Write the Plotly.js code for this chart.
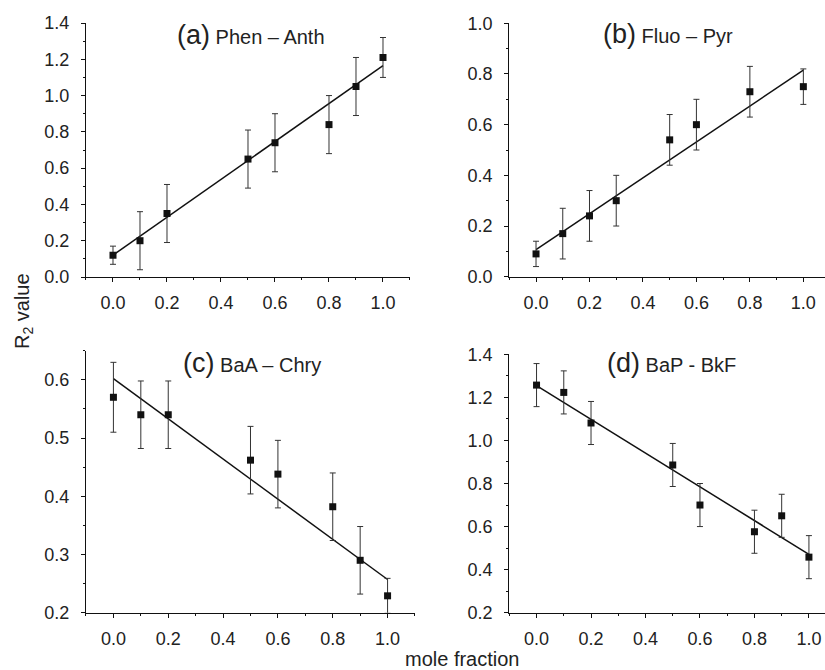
<!DOCTYPE html>
<html>
<head>
<meta charset="utf-8">
<script src="https://cdn.plot.ly/plotly-3.0.1.min.js"></script>
<style>html,body{margin:0;padding:0;background:#fff;}#chart{width:825px;height:670px;}</style>
</head>
<body>
<div id="chart"></div>
<script>
// ---- data ----
const xA = [0.0, 0.1, 0.2, 0.5, 0.6, 0.8, 0.9, 1.0];
const yA = [0.12, 0.20, 0.35, 0.65, 0.74, 0.84, 1.05, 1.21];
const errA = [0.05, 0.16, 0.16, 0.16, 0.16, 0.16, 0.16, 0.11];
const fitA = [0.12, 1.165];

const xB = [0.0, 0.1, 0.2, 0.3, 0.5, 0.6, 0.8, 1.0];
const yB = [0.09, 0.17, 0.24, 0.30, 0.54, 0.60, 0.73, 0.75];
const errB = [0.05, 0.10, 0.10, 0.10, 0.10, 0.10, 0.10, 0.07];
const fitB = [0.107, 0.815];

const xC = [0.0, 0.1, 0.2, 0.5, 0.6, 0.8, 0.9, 1.0];
const yC = [0.570, 0.540, 0.540, 0.462, 0.438, 0.382, 0.290, 0.229];
const errC = [0.060, 0.058, 0.058, 0.058, 0.058, 0.058, 0.058, 0.030];
const fitC = [0.602, 0.257];

const xD = [0.0, 0.1, 0.2, 0.5, 0.6, 0.8, 0.9, 1.0];
const yD = [1.257, 1.223, 1.081, 0.886, 0.700, 0.576, 0.650, 0.458];
const errD = [0.10, 0.10, 0.10, 0.10, 0.10, 0.10, 0.10, 0.10];
const fitD = [1.255, 0.471];

const fitX = [0.0, 1.0];

const panelTitles = ['(a)', '(b)', '(c)', '(d)'];
const panelNames = ['Phen – Anth', 'Fluo – Pyr', 'BaA – Chry', 'BaP - BkF'];

// ---- traces ----
function pts(x, y, e, xa, ya) {
  return {
    type: 'scatter', mode: 'markers', x: x, y: y, xaxis: xa, yaxis: ya,
    marker: {symbol: 'square', size: 7, color: '#111'},
    error_y: {type: 'data', array: e, visible: true, color: '#333', thickness: 1, width: 3},
    cliponaxis: false, showlegend: false, hoverinfo: 'x+y'
  };
}
function fit(y, xa, ya) {
  return {
    type: 'scatter', mode: 'lines', x: fitX, y: y, xaxis: xa, yaxis: ya,
    line: {color: '#111', width: 1.5}, showlegend: false, hoverinfo: 'skip'
  };
}

const data = [
  fit(fitA, 'x', 'y'), pts(xA, yA, errA, 'x', 'y'),
  fit(fitB, 'x2', 'y2'), pts(xB, yB, errB, 'x2', 'y2'),
  fit(fitC, 'x3', 'y3'), pts(xC, yC, errC, 'x3', 'y3'),
  fit(fitD, 'x4', 'y4'), pts(xD, yD, errD, 'x4', 'y4')
];

const tickFont = {family: 'Liberation Sans, Arial, sans-serif', size: 18, color: '#222'};

function xax(domain, range, anchor) {
  return {
    domain: domain, range: range, anchor: anchor,
    showgrid: false, zeroline: false, showline: true, linecolor: '#111', linewidth: 1.2,
    ticks: 'outside', ticklen: 4, tickwidth: 1, tickcolor: '#111',
    tick0: 0, dtick: 0.2, tickformat: '.1f', tickfont: tickFont, ticklabelstandoff: 5,
    minor: {dtick: 0.1, tick0: 0, ticks: 'outside', ticklen: 2, tickwidth: 1, tickcolor: '#111'},
    fixedrange: true
  };
}
function yax(domain, range, anchor, dt, mdt) {
  return {
    domain: domain, range: range, anchor: anchor,
    showgrid: false, zeroline: false, showline: true, linecolor: '#111', linewidth: 1.2,
    ticks: 'outside', ticklen: 4, tickwidth: 1, tickcolor: '#111',
    tick0: 0, dtick: dt, tickformat: '.1f', tickfont: tickFont, ticklabelstandoff: 8,
    minor: {dtick: mdt, tick0: 0, ticks: 'outside', ticklen: 2, tickwidth: 1, tickcolor: '#111'},
    fixedrange: true
  };
}

const titleX = [0.3048, 0.8103, 0.3055, 0.8145];
const titleY = [0.9475, 0.9490, 0.4580, 0.4580];
const annFont = {family: 'Liberation Sans, Arial, sans-serif', size: 20, color: '#222'};

const annotations = panelTitles.map((t, i) => ({
  xref: 'paper', yref: 'paper', x: titleX[i], y: titleY[i],
  xanchor: 'center', yanchor: 'middle', showarrow: false,
  text: '<span style="font-size:27px">' + t + '</span> ' + panelNames[i],
  font: annFont
}));
annotations.push({
  xref: 'paper', yref: 'paper', x: 0.56, y: 0.0164, xanchor: 'center', yanchor: 'middle',
  showarrow: false, text: 'mole fraction', font: {family: 'Liberation Sans, Arial, sans-serif', size: 20, color: '#222'}
});
annotations.push({
  xref: 'paper', yref: 'paper', x: 0.0279, y: 0.5358, xanchor: 'center', yanchor: 'middle',
  showarrow: false, textangle: -90, text: 'R<sub>2</sub> value',
  font: {family: 'Liberation Sans, Arial, sans-serif', size: 20, color: '#222'}
});

const layout = {
  width: 825, height: 670,
  margin: {l: 0, r: 0, t: 0, b: 0},
  paper_bgcolor: '#fff', plot_bgcolor: '#fff',
  showlegend: false,
  xaxis:  xax([0.10424, 0.49697], [-0.1, 1.1], 'y'),
  yaxis:  yax([0.58657, 0.96567], [0, 1.4], 'x', 0.2, 0.1),
  xaxis2: xax([0.61733, 1.0], [-0.1, 1.081], 'y2'),
  yaxis2: yax([0.58701, 0.96522], [0, 1.0], 'x2', 0.2, 0.1),
  xaxis3: xax([0.10424, 0.50303], [-0.1, 1.1], 'y3'),
  yaxis3: yax([0.08552, 0.47657], [0.2, 0.65], 'x3', 0.1, 0.05),
  xaxis4: xax([0.61733, 1.0], [-0.1, 1.059], 'y4'),
  yaxis4: yax([0.08552, 0.47119], [0.2, 1.4], 'x4', 0.2, 0.1),
  annotations: annotations
};

Plotly.newPlot('chart', data, layout, {displayModeBar: false, staticPlot: true});
</script>
</body>
</html>
